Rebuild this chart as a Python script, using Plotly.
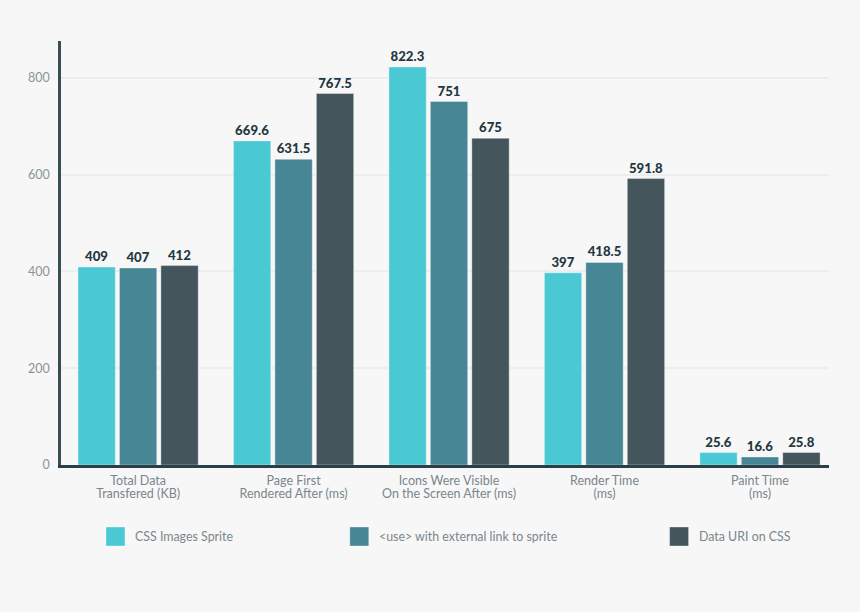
import plotly.graph_objects as go

label_line_1 = ["Total Data", "Page First", "Icons Were Visible", "Render Time", "Paint Time"]
label_line_2 = ["Transfered (KB)", "Rendered After (ms)", "On the Screen After (ms)", "(ms)", "(ms)"]
series_names = ["CSS Images Sprite", "<use> with external link to sprite", "Data URI on CSS"]
css_sprite = [409, 669.6, 822.3, 397, 25.6]
use_external = [407, 631.5, 751, 418.5, 16.6]
data_uri = [412, 767.5, 675, 591.8, 25.8]
colors = ["#4ac9d4", "#468695", "#44565c"]
y_ticks = [0, 200, 400, 600, 800]

WIDTH = 860
HEIGHT = 612
TEXT_FONT = "Lato"
PLOT_W = 768.5
PLOT_H = 424
BASELINE = 465  # pixel row of y=0

# line spacing follows the outer tickfont size, the spans set the visible size
categories = ['<span style="font-size:12.5px">%s</span><br><span style="font-size:12.5px">%s</span>' % (a, b)
              for a, b in zip(label_line_1, label_line_2)]


def paper_x(px):
    return (px - 61) / PLOT_W


def paper_y(py):
    return (BASELINE - py) / PLOT_H


fig = go.Figure()
for name, values, color in zip(series_names, [css_sprite, use_external, data_uri], colors):
    fig.add_trace(go.Bar(
        name=name,
        x=categories,
        y=values,
        marker_color=color,
        marker_line=dict(color="rgba(255,255,255,0.35)", width=1),
        text=[str(v) for v in values],
        textposition="outside",
        cliponaxis=False,
        textfont=dict(family=TEXT_FONT, size=13.2, color="#24383f", weight=900),
        showlegend=False,
    ))

fig.update_layout(
    width=WIDTH,
    height=HEIGHT,
    margin=dict(l=61, r=30.5, t=41, b=147),
    paper_bgcolor="#f7f7f7",
    plot_bgcolor="#f7f7f7",
    barmode="group",
    bargap=0.2,
    bargroupgap=0.1,
    font=dict(family=TEXT_FONT, color="#7f8b90", size=12),
    xaxis=dict(
        range=[-0.496, 4.444],
        showline=True,
        linecolor="#2a3f47",
        linewidth=2.5,
        ticks="",
        tickangle=0,
        ticklabelstandoff=6,
        tickfont=dict(family=TEXT_FONT, size=9.7, color="#7a868b"),
    ),
    yaxis=dict(
        range=[0, 876],
        tickvals=y_ticks,
        showline=True,
        linecolor="#3a4d54",
        linewidth=2.5,
        gridcolor="#e9eef1",
        gridwidth=1.5,
        zeroline=False,
        ticks="",
        ticklabelstandoff=6,
        tickfont=dict(family=TEXT_FONT, size=12.5, color="#8a9499"),
    ),
)

# legend drawn by hand, the entries are not evenly spaced
legend_left = [106, 350, 670]
for name, color, left in zip(series_names, colors, legend_left):
    fig.add_shape(
        type="rect", xref="paper", yref="paper",
        x0=paper_x(left), x1=paper_x(left + 19),
        y0=paper_y(546), y1=paper_y(527),
        fillcolor=color,
        line=dict(color="rgba(255,255,255,0.35)", width=1),
    )
    fig.add_annotation(
        xref="paper", yref="paper",
        x=paper_x(left + 27.5), y=paper_y(536.5),
        xanchor="left", yanchor="middle",
        text=name.replace("<", "&lt;").replace(">", "&gt;"),
        showarrow=False,
        font=dict(family=TEXT_FONT, size=12.4, color="#7a868b"),
    )

# page margin would otherwise show as a white frame
fig.write_html("out.html", config=dict(displayModeBar=False),
               post_script="document.body.style.margin='0';document.body.style.background='#f7f7f7';")
